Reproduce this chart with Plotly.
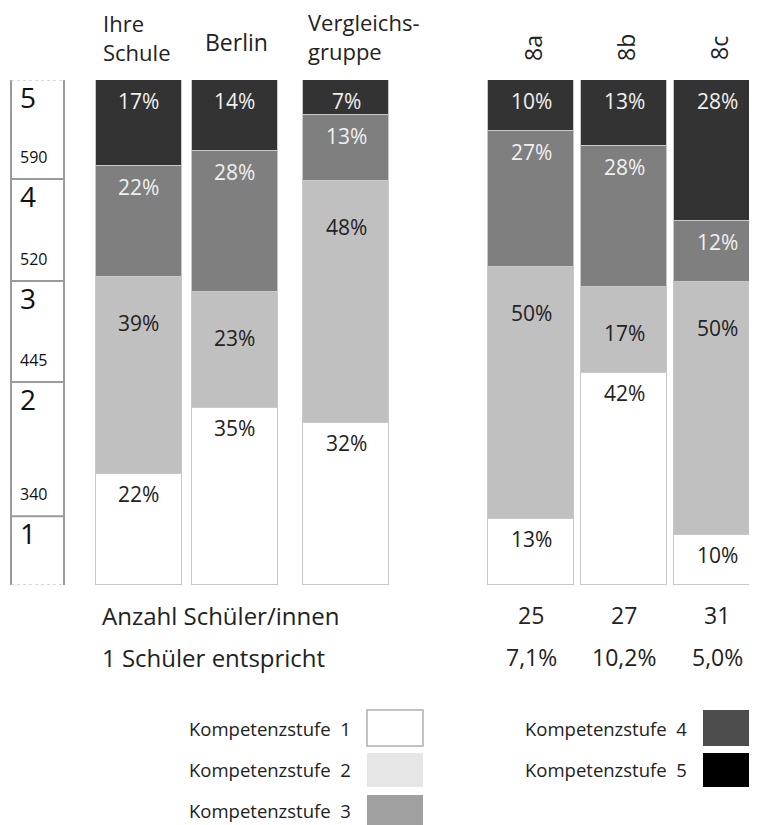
import plotly.graph_objects as go

# ---- data ----
groups = ["Ihre Schule", "Berlin", "Vergleichsgruppe", "8a", "8b", "8c"]
# stacked from bottom to top (percent of students)
seg_white = [22, 35, 32, 13, 42, 10]
seg_light = [39, 23, 48, 50, 17, 50]
seg_gray = [22, 28, 13, 27, 28, 12]
seg_dark = [17, 14, 7, 10, 13, 28]

n_students = ["25", "27", "31"]
one_student = ["7,1%", "10,2%", "5,0%"]

scale_levels = ["1", "2", "3", "4", "5"]
scale_points = ["340", "445", "520", "590"]
scale_pos = [13.6, 40.2, 60.2, 80.4]  # boundaries on the 0-100 axis

legend_labels = ["Kompetenzstufe 1", "Kompetenzstufe 2", "Kompetenzstufe 3",
                 "Kompetenzstufe 4", "Kompetenzstufe 5"]
legend_colors = ["#ffffff", "#e6e6e6", "#a0a0a0", "#4d4d4d", "#000000"]

# ---- layout constants (screen pixels; page body adds an 8px offset) ----
W, H = 757, 825
OFF = 8
TOP, BOTTOM = 80, 585
bar_x = [138.5, 234.5, 346, 531, 624, 717]
bar_w = 86
scale_l, scale_r = 11, 64
FONT = "Open Sans"
DARK_TXT = "#222222"
LIGHT_TXT = "#f0f0f0"


def py(p):
    # screen pixel row -> paper y
    return (BOTTOM - p) / (BOTTOM - TOP)


def txt(x, y, text, size, anchor="left", **kw):
    d = dict(x=x, y=py(y), xref="x", yref="paper", text=text, showarrow=False,
             xanchor=anchor, yanchor="middle", align="left",
             font=dict(size=size, color=DARK_TXT, family=FONT))
    d.update(kw)
    return d


fig = go.Figure()

series = [
    (seg_white, "#ffffff", DARK_TXT, -20),
    (seg_light, "#c0c0c0", DARK_TXT, -46),
    (seg_gray, "#7f7f7f", LIGHT_TXT, -21),
    (seg_dark, "#333333", LIGHT_TXT, -21),
]
for vals, col, _, _ in series:
    fig.add_trace(go.Bar(
        x=bar_x, y=vals, width=bar_w,
        marker=dict(color=col, line=dict(color="#c8c8c8", width=1.5)),
        hoverinfo="skip", showlegend=False,
    ))

ann = []
# segment labels near the top of each segment
cum = [0] * len(groups)
for vals, col, tcol, shift in series:
    for i, v in enumerate(vals):
        cum[i] += v
        ann.append(dict(x=bar_x[i], y=cum[i], xref="x", yref="y", text=f"{v}%",
                        showarrow=False, yanchor="middle", yshift=shift,
                        font=dict(size=21, color=tcol, family=FONT)))

# headers
ann.append(txt(101, 38, "Ihre<br>Schule", 22))
ann.append(txt(203, 42, "Berlin", 23))
ann.append(txt(306, 37, "Vergleichs-<br>gruppe", 22))
for i in range(3, 6):
    ann.append(txt(bar_x[i] + 2, 48, groups[i], 23, anchor="center", textangle=-90))

# rows below the bars
ann.append(txt(100, 615, "Anzahl Schüler/innen", 24))
ann.append(txt(100, 657, "1 Schüler entspricht", 24))
for i in range(3):
    ann.append(txt(bar_x[3 + i], 615, n_students[i], 23, anchor="center"))
    ann.append(txt(bar_x[3 + i], 657, one_student[i], 23, anchor="center"))

# scale column
shapes = []
for xx in (scale_l, scale_r):
    shapes.append(dict(type="line", xref="x", yref="y", x0=xx, x1=xx, y0=0, y1=100,
                       line=dict(color="#9a9a9a", width=2)))
for yy in scale_pos:
    shapes.append(dict(type="line", xref="x", yref="y", x0=scale_l, x1=scale_r, y0=yy, y1=yy,
                       line=dict(color="#9a9a9a", width=2)))
for yy in (0, 100):
    shapes.append(dict(type="line", xref="x", yref="y", x0=scale_l, x1=scale_r, y0=yy, y1=yy,
                       line=dict(color="#cccccc", width=1.5, dash="dot")))

level_tops = scale_pos + [100]
for lab, yy in zip(scale_levels, level_tops):
    ann.append(dict(x=18, y=yy, xref="x", yref="y", text=lab, xanchor="left",
                    yanchor="middle", yshift=-17, showarrow=False,
                    font=dict(size=28, color="#111111", family=FONT)))
for lab, yy in zip(scale_points, scale_pos):
    ann.append(dict(x=18, y=yy, xref="x", yref="y", text=lab, xanchor="left",
                    yanchor="middle", yshift=22, showarrow=False,
                    font=dict(size=16, color="#111111", family=FONT)))

# legend (labels left of the swatches)
leg_rows = [(710, 746), (753, 787), (795, 832)]
leg_text_y = [728, 770, 810]
for k, (lab, col) in enumerate(zip(legend_labels, legend_colors)):
    if k < 3:
        x0, x1, tx, row = 367, 423, 353, k
    else:
        x0, x1, tx, row = 703, 775, 689, k - 3
    y0, y1 = leg_rows[row]
    shapes.append(dict(type="rect", xref="x", yref="paper", x0=x0, x1=x1,
                       y0=py(y1), y1=py(y0), fillcolor=col,
                       line=dict(color="#b0b0b0" if k == 0 else col,
                                 width=1.5 if k == 0 else 0)))
    ann.append(txt(tx, leg_text_y[row], lab.replace("stufe ", "stufe&nbsp;&nbsp;"), 18.5,
                   anchor="right"))

fig.update_layout(
    width=W - OFF, height=H - OFF,
    barmode="stack",
    bargap=0,
    plot_bgcolor="white",
    paper_bgcolor="white",
    margin=dict(l=0, r=0, t=TOP - OFF, b=H - BOTTOM, pad=0),
    xaxis=dict(range=[OFF, W], visible=False, fixedrange=True),
    yaxis=dict(range=[0, 100], visible=False, fixedrange=True),
    annotations=ann,
    shapes=shapes,
    showlegend=False,
)

fig.write_html("out.html")
